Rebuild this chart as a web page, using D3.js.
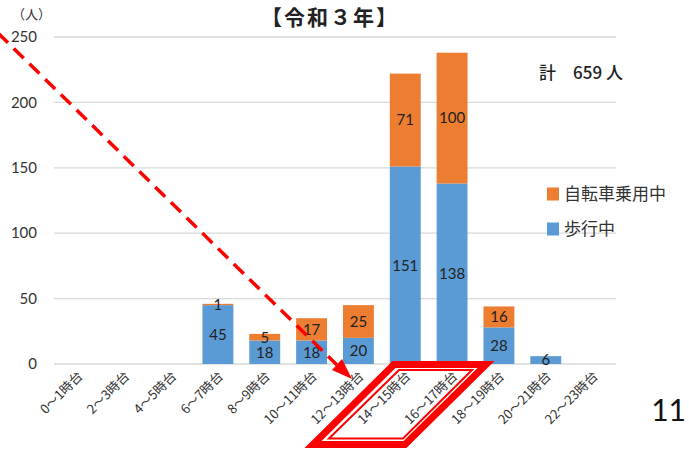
<!DOCTYPE html>
<meta charset="utf-8">
<script src="https://d3js.org/d3.v7.min.js"></script>
<style>
  body { margin: 0; background: #fff; }
</style>
<div id="chart"></div>
<script>
// data
const hours = ["0～1時台", "2～3時台", "4～5時台", "6～7時台", "8～9時台", "10～11時台",
  "12～13時台", "14～15時台", "16～17時台", "18～19時台", "20～21時台", "22～23時台"];
const walking = [0, 0, 0, 45, 18, 18, 20, 151, 138, 28, 6, 0];   // 歩行中
const cycling = [0, 0, 0, 1, 5, 17, 25, 71, 100, 16, 0, 0];     // 自転車乗用中
const yTicks = [0, 50, 100, 150, 200, 250];
const seriesNames = ["自転車乗用中", "歩行中"];

const width = 689, height = 450;
const jp = "'Noto Sans CJK JP', sans-serif";
const num = "Lato, 'Noto Sans', sans-serif";
const blue = "#5B9BD5", orange = "#ED7D31";

const svg = d3.select("#chart").append("svg")
  .attr("width", width).attr("height", height);

const x = d3.scaleBand().domain(hours).range([54, 616]).paddingInner(0.34).paddingOuter(0.17);
const y = d3.scaleLinear().domain([0, 250]).range([364, 37]);

// gridlines
svg.append("g").selectAll("line").data(yTicks).join("line")
  .attr("x1", 54).attr("x2", 616)
  .attr("y1", d => y(d)).attr("y2", d => y(d))
  .attr("stroke", "#d9d9d9").attr("stroke-width", 1.3);

// y axis labels
svg.append("g").selectAll("text").data(yTicks).join("text")
  .attr("x", 37).attr("y", d => y(d)).attr("dy", "0.35em")
  .attr("text-anchor", "end")
  .attr("font-family", num).attr("font-size", 15).attr("fill", "#333")
  .text(d => d);

svg.append("text").attr("x", 12).attr("y", 19)
  .attr("font-family", jp).attr("font-size", 13).attr("fill", "#333")
  .text("（人）");

// stacked bars
const rows = hours.map((h, i) => ({ hour: h, walk: walking[i], bike: cycling[i] }));
const stack = d3.stack().keys(["walk", "bike"])(rows);
const colors = { walk: blue, bike: orange };

stack.forEach(layer => {
  svg.append("g").selectAll("rect").data(layer.filter(d => d[1] > d[0])).join("rect")
    .attr("x", d => x(d.data.hour))
    .attr("width", x.bandwidth())
    .attr("y", d => y(d[1]))
    .attr("height", d => y(d[0]) - y(d[1]))
    .attr("fill", colors[layer.key]);

  svg.append("g").selectAll("text").data(layer.filter(d => d[1] > d[0])).join("text")
    .attr("x", d => x(d.data.hour) + x.bandwidth() / 2)
    .attr("y", d => y((d[0] + d[1]) / 2))
    .attr("dy", "0.36em")
    .attr("text-anchor", "middle")
    .attr("font-family", num).attr("font-size", 15).attr("fill", "#222")
    .text(d => d[1] - d[0]);
});

// x labels
svg.append("g").selectAll("text").data(hours).join("text")
  .attr("transform", d => `translate(${x(d) + x.bandwidth() / 2 + 6},${377}) rotate(-45)`)
  .attr("text-anchor", "end")
  .attr("font-family", jp).attr("font-size", 13).attr("fill", "#333")
  .text(d => d);

// title
svg.append("text").attr("x", 330).attr("y", 25).attr("text-anchor", "middle")
  .attr("font-family", jp).attr("font-size", 21).attr("font-weight", "bold")
  .attr("letter-spacing", 2).attr("fill", "#222")
  .text("【令和３年】");

// total
const total = d3.sum(walking) + d3.sum(cycling);
svg.append("text").attr("x", 539).attr("y", 79)
  .attr("font-family", jp).attr("font-size", 17).attr("font-weight", 500).attr("fill", "#222")
  .text(`計　${total} 人`);

// legend
const legend = svg.append("g").selectAll("g").data(seriesNames).join("g")
  .attr("transform", (d, i) => `translate(547,${194 + i * 35})`);
legend.append("rect").attr("x", 0).attr("y", -6.5).attr("width", 12).attr("height", 13)
  .attr("fill", (d, i) => i === 0 ? orange : blue);
legend.append("text").attr("x", 17).attr("y", 0).attr("dy", "0.36em")
  .attr("font-family", jp).attr("font-size", 17).attr("fill", "#333")
  .text(d => d);

// page number
svg.append("text").attr("x", 686).attr("y", 421).attr("text-anchor", "end")
  .attr("font-family", num).attr("font-size", 30).attr("fill", "#111")
  .text("11");

// red dashed arrow
svg.append("line")
  .attr("x1", -2).attr("y1", 33).attr("x2", 337).attr("y2", 365)
  .attr("stroke", "#ff0000").attr("stroke-width", 3.5)
  .attr("stroke-dasharray", "14,8");
svg.append("path")
  .attr("d", "M352,379 L332,370 L342,359 Z")
  .attr("fill", "#ff0000");

// red parallelogram frame
svg.append("path")
  .attr("d", "M394,364.5 L486,364.5 L405,444.5 L313,444.5 Z")
  .attr("fill", "none").attr("stroke", "#ff0000").attr("stroke-width", 7)
  .attr("stroke-linejoin", "miter");
svg.append("path")
  .attr("d", "M399,370 L472,370 L403,438.5 L329,438.5 Z")
  .attr("fill", "none").attr("stroke", "#ff0000").attr("stroke-width", 2);
</script>
